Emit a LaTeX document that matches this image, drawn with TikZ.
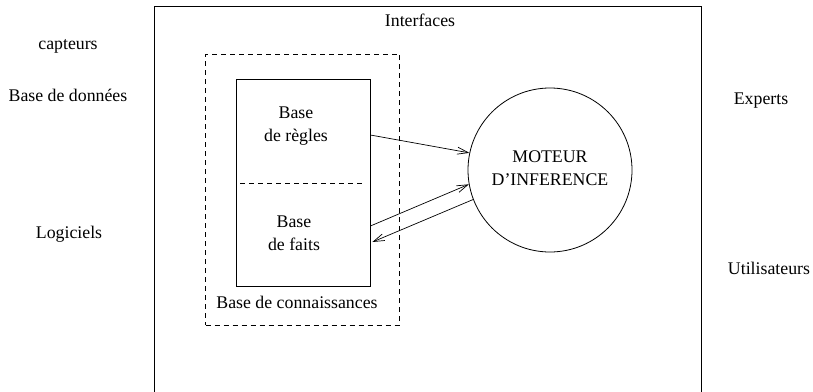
\documentclass[tikz,border=0pt]{standalone}
\usepackage{fontspec}
\setmainfont{Liberation Serif}
\usetikzlibrary{arrows.meta}
\begin{document}
\begin{tikzpicture}[x=1pt,y=-1pt,
  every node/.style={font=\fontsize{17.8}{23}\selectfont, inner sep=0pt},
  line/.style={line width=0.8pt},
  dashline/.style={line width=0.8pt, dash pattern=on 5pt off 4pt},
  arr/.style={line width=0.7pt, -{Straight Barb[length=11pt,width=7pt,line width=0.7pt]}},
  lbl/.style={align=center}]
  \useasboundingbox (0,0) rectangle (813,391);

  % outer frame (open at the bottom)
  \coordinate (fbl) at (154,392);
  \coordinate (ftl) at (154,6);
  \coordinate (ftr) at (701,6);
  \coordinate (fbr) at (701,392);
  \draw[line] (fbl) -- (ftl) -- (ftr) -- (fbr);
  \node (interfaces) at (420,20) {Interfaces};

  % knowledge base
  \node[dashline, draw, rectangle, minimum width=194pt, minimum height=271pt] (kbase) at (302.5,189.5) {};
  \node[line, draw, rectangle, minimum width=134pt, minimum height=207pt] (kb) at (303,183) {};
  \coordinate (divl) at (240,183.5);
  \coordinate (divr) at (362,183.5);
  \draw[dashline] (divl) -- (divr);
  \node[lbl] (regles) at (296,126.5) {Base\\de règles};
  \node[lbl] (faits) at (294,233.5) {Base\\de faits};
  \node (connaissances) at (297,302) {Base de connaissances};

  % inference engine
  \node[line, draw, circle, minimum size=164pt] (moteur) at (550,170) {};
  \node[lbl] (moteurtxt) at (550,168.5) {MOTEUR\\D’INFERENCE};

  % connectors
  \draw[arr] ([yshift=48pt]kb.east) -- (moteur.168);
  \draw[arr] ([yshift=-43pt]kb.east) -- (moteur.190);
  \draw[arr] (moteur.201) -- ([xshift=2pt,yshift=-59pt]kb.east);

  % surroundings
  \node (capteurs) at (68,46) {capteurs};
  \node (bdd) at (68,95) {Base de données};
  \node (logiciels) at (69,234) {Logiciels};
  \node (experts) at (761,101) {Experts};
  \node (utilisateurs) at (769,268) {Utilisateurs};
\end{tikzpicture}
\end{document}
